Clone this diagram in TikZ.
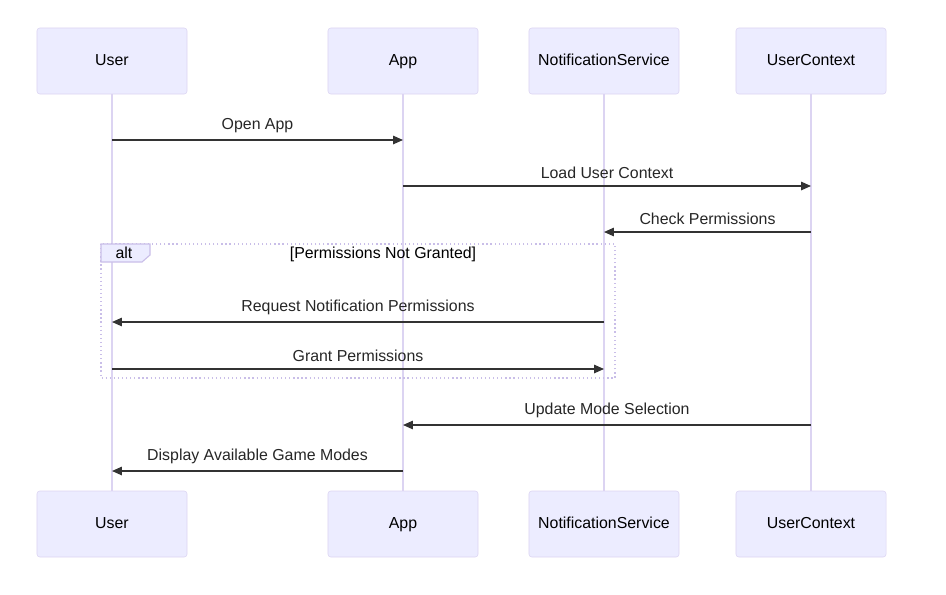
\documentclass[tikz,border=0pt]{standalone}
\usepackage{fontspec}
\setmainfont{Liberation Sans}
\usepackage{tikz}
\usetikzlibrary{shapes,arrows,arrows.meta,positioning,calc}

\definecolor{actorfill}{HTML}{ECECFF}
\definecolor{actorline}{HTML}{DCD4F2}
\definecolor{msgline}{HTML}{333333}
\definecolor{altline}{HTML}{C9BEE8}

\begin{document}
\begin{tikzpicture}[x=0.025cm, y=-0.025cm, every node/.style={align=center, font=\fontsize{11.3}{13}\selectfont}]
        % 样式
        \tikzstyle{actor} = [rectangle, rounded corners=2pt, minimum width=3.75cm, minimum height=1.65cm, text height=1.6ex, text depth=0.4ex, text centered, draw=actorline, fill=actorfill]
        \tikzstyle{lifeline} = [actorline, line width=1.1pt]
        \tikzstyle{arrow} = [msgline, line width=0.9pt, -{Triangle[length=7pt,width=6pt]}]
        \tikzstyle{msg} = [anchor=south, inner sep=2pt, text=black!85]

        \useasboundingbox (0,0) rectangle (946,594);

        % 参与者
        \node (user) [actor] at (112,61) {User};
        \node (app) [actor] at (403,61) {App};
        \node (notif) [actor] at (604,61) {NotificationService};
        \node (ctx) [actor] at (811,61) {UserContext};
        \node (userb) [actor] at (112,524) {User};
        \node (appb) [actor] at (403,524) {App};
        \node (notifb) [actor] at (604,524) {NotificationService};
        \node (ctxb) [actor] at (811,524) {UserContext};

        % 生命线
        \draw [lifeline] (user) -- (userb);
        \draw [lifeline] (app) -- (appb);
        \draw [lifeline] (notif) -- (notifb);
        \draw [lifeline] (ctx) -- (ctxb);

        % alt 区块
        \draw [altline, line width=0.9pt, dotted] (101,244) rectangle (615,378);
        \draw [altline, fill=actorfill, line width=0.8pt] (101,244) -- (150,244) -- (150,255) -- (142,262) -- (101,262) -- cycle;
        \node (alt) at (124,253) {alt};
        \node (cond) at (383,254) {[Permissions Not Granted]};

        % 消息
        \coordinate (m1) at (0,140);
        \coordinate (m2) at (0,186);
        \coordinate (m3) at (0,232);
        \coordinate (m4) at (0,322);
        \coordinate (m5) at (0,369);
        \coordinate (m6) at (0,425);
        \coordinate (m7) at (0,471);

        \draw [arrow] (user |- m1) -- node[msg, yshift=3pt] {Open App} (app |- m1);
        \draw [arrow] (app |- m2) -- node[msg, yshift=3pt] {Load User Context} (ctx |- m2);
        \draw [arrow] (ctx |- m3) -- node[msg, yshift=3pt] {Check Permissions} (notif |- m3);
        \draw [arrow] (notif |- m4) -- node[msg, yshift=3pt] {Request Notification Permissions} (user |- m4);
        \draw [arrow] (user |- m5) -- node[msg, yshift=3pt] {Grant Permissions} (notif |- m5);
        \draw [arrow] (ctx |- m6) -- node[msg, yshift=3pt] {Update Mode Selection} (app |- m6);
        \draw [arrow] (app |- m7) -- node[msg, yshift=3pt] {Display Available Game Modes} (user |- m7);
    \end{tikzpicture}
\end{document}
